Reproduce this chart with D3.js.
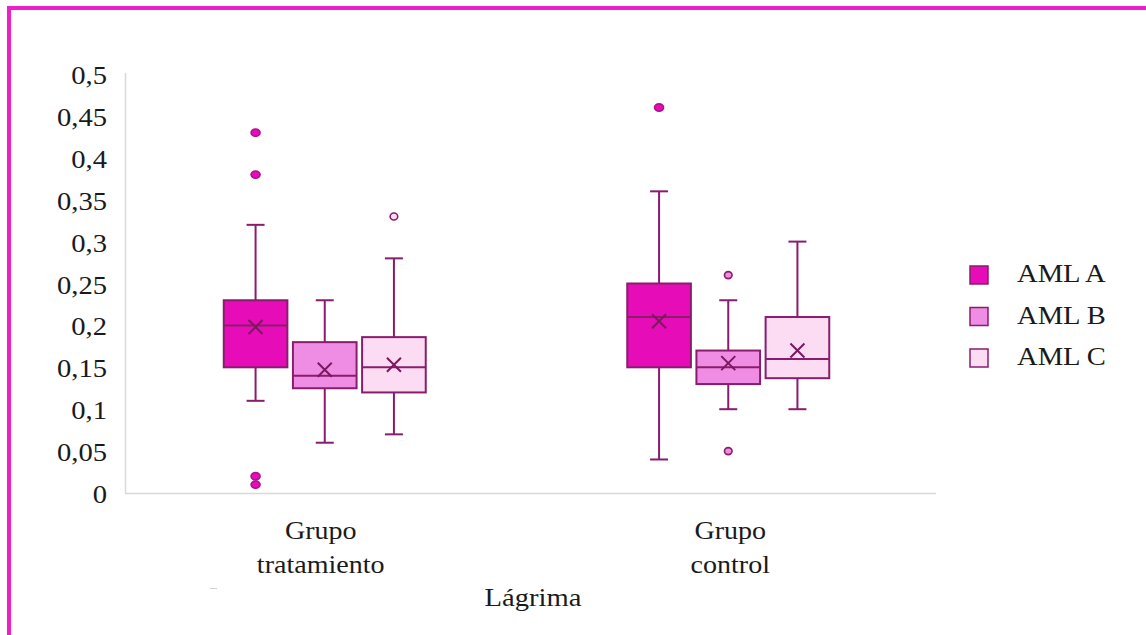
<!DOCTYPE html>
<html><head><meta charset="utf-8">
<script src="https://cdn.jsdelivr.net/npm/d3@7"></script>
</head><body style="margin:0">
<svg id="c" width="1146" height="635" style="display:block;background:#fff"></svg>
<script>
const groups = ["Grupo tratamiento", "Grupo control"];
const groupLines = [["Grupo", "tratamiento"], ["Grupo", "control"]];
const series = ["AML A", "AML B", "AML C"];
const colors = ["#e60cb8", "#ef8ce3", "#fcdcf2"];
// indexed [group][series]
const whiskerLow  = [[0.11, 0.06, 0.07], [0.04, 0.10, 0.10]];
const q1          = [[0.15, 0.125, 0.12], [0.15, 0.13, 0.137]];
const median      = [[0.20, 0.14, 0.15], [0.21, 0.15, 0.16]];
const q3          = [[0.23, 0.18, 0.186], [0.25, 0.17, 0.21]];
const whiskerHigh = [[0.32, 0.23, 0.28], [0.36, 0.23, 0.30]];
const mean        = [[0.198, 0.147, 0.153], [0.205, 0.155, 0.17]];
const outliers    = [[[0.43, 0.38, 0.02, 0.01], [], [0.33]], [[0.46], [0.26, 0.05], []]];
const yTicks = [0, 0.05, 0.1, 0.15, 0.2, 0.25, 0.3, 0.35, 0.4, 0.45, 0.5];

const stroke = "#8a1c6e";
const svg = d3.select("#c").style("font-family", '"Times New Roman"');
const SX = 1.1;

svg.append("rect").attr("x", 9).attr("y", 8).attr("width", 1300).attr("height", 800)
  .attr("fill", "none").attr("stroke", "#ee1ec9").attr("stroke-width", 4);

const y = d3.scaleLinear().domain([0, 0.5]).range([493, 74]);
const x0 = d3.scaleBand().domain(groups).range([123, 930]);
const x1 = d3.scaleBand().domain(series).range([-101, 101]).paddingInner(0.08);

function txt(g, s, x, yy, anchor, size) {
  const t = g.append("text").attr("x", x).attr("y", yy)
    .attr("text-anchor", anchor).attr("font-size", size || 26)
    .style("font-family", '"Times New Roman"')
    .attr("fill", "#1a1a1a").text(s);
  const L = t.node().getComputedTextLength();
  t.attr("textLength", L * SX).attr("lengthAdjust", "spacingAndGlyphs");
  return t;
}

// axes lines
svg.append("line").attr("x1", 125.5).attr("x2", 125.5).attr("y1", y(0.5) - 1).attr("y2", y(0))
  .attr("stroke", "#d9d9d9").attr("stroke-width", 1.5);
svg.append("line").attr("x1", 125).attr("x2", 936).attr("y1", y(0) + 0.5).attr("y2", y(0) + 0.5)
  .attr("stroke", "#d9d9d9").attr("stroke-width", 1.5);
svg.append("line").attr("x1", 210).attr("x2", 217).attr("y1", 588.5).attr("y2", 588.5)
  .attr("stroke", "#d0d0d0").attr("stroke-width", 1);

const fmt = v => String(v).replace(".", ",");
yTicks.forEach(t => txt(svg, fmt(t), 107, y(t) + 10, "end"));

groups.forEach((g, gi) => {
  const cx = x0(g) + x0.bandwidth() / 2;
  groupLines[gi].forEach((ln, li) => txt(svg, ln, cx - 4 + gi * 6, 539 + li * 34, "middle", 25.5));
  series.forEach((s, si) => {
    const left = cx + x1(s);
    const w = x1.bandwidth();
    const mid = left + w / 2;
    const G = svg.append("g");
    G.append("line").attr("x1", mid).attr("x2", mid).attr("y1", y(whiskerHigh[gi][si])).attr("y2", y(q3[gi][si]))
      .attr("stroke", stroke).attr("stroke-width", 2);
    G.append("line").attr("x1", mid).attr("x2", mid).attr("y1", y(q1[gi][si])).attr("y2", y(whiskerLow[gi][si]))
      .attr("stroke", stroke).attr("stroke-width", 2);
    [whiskerHigh[gi][si], whiskerLow[gi][si]].forEach(v =>
      G.append("line").attr("x1", mid - 9).attr("x2", mid + 9).attr("y1", y(v)).attr("y2", y(v))
        .attr("stroke", stroke).attr("stroke-width", 2));
    G.append("rect").attr("x", left).attr("y", y(q3[gi][si])).attr("width", w)
      .attr("height", y(q1[gi][si]) - y(q3[gi][si])).attr("fill", colors[si])
      .attr("stroke", stroke).attr("stroke-width", 2);
    G.append("line").attr("x1", left).attr("x2", left + w).attr("y1", y(median[gi][si])).attr("y2", y(median[gi][si]))
      .attr("stroke", stroke).attr("stroke-width", 2);
    const my = y(mean[gi][si]), d = 7;
    G.append("path").attr("d", `M${mid - d},${my - d}L${mid + d},${my + d}M${mid - d},${my + d}L${mid + d},${my - d}`)
      .attr("stroke", "#7a1862").attr("stroke-width", 2).attr("fill", "none");
    outliers[gi][si].forEach(v =>
      G.append("ellipse").attr("cx", mid).attr("cy", y(v)).attr("rx", si === 0 ? 4.5 : 3.8).attr("ry", si === 0 ? 3.6 : 3.5)
        .attr("fill", colors[si]).attr("stroke", si === 0 ? "#b0108e" : stroke).attr("stroke-width", 1.6));
  });
});

txt(svg, "Lágrima", 533, 606, "middle");

series.forEach((s, i) => {
  const ly = 266 + i * 41.5;
  svg.append("rect").attr("x", 970).attr("y", ly).attr("width", 18).attr("height", 18)
    .attr("fill", colors[i]).attr("stroke", stroke).attr("stroke-width", 1.5);
  txt(svg, s, 1017, ly + 16, "start");
});
</script>
</body></html>
